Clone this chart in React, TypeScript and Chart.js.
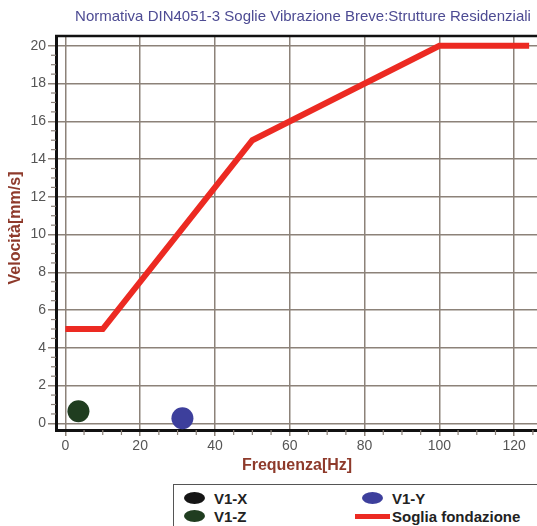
import React, { useEffect, useRef } from "react";
import { Chart, registerables } from "chart.js";

Chart.register(...registerables);

// Measurement points (frequency Hz, peak velocity mm/s)
const seriesNames = ["V1-X", "V1-Y", "V1-Z"];
const seriesColors = ["#151515", "#3d3f9c", "#203d20"];
const pointFreq = [3.5, 31.3, 3.5];
const pointVel = [0.64, 0.27, 0.64];
// V1-Z is drawn above V1-X (lower order = drawn on top)
const pointOrder = [3, 2, 1];
const pointRadii = [10, 11, 11];

// DIN 4051-3 short-term threshold for residential buildings (foundation)
const thresholdName = "Soglia fondazione";
const thresholdColor = "#ec2a22";
const thresholdFreq = [0, 10, 50, 100, 124];
const thresholdVel = [5, 5, 15, 20, 20];

const xTicks = [0, 20, 40, 60, 80, 100, 120];
const yTicks = [0, 2, 4, 6, 8, 10, 12, 14, 16, 18, 20];

const titleText = "Normativa DIN4051-3 Soglie Vibrazione Breve:Strutture Residenziali";
const xTitle = "Frequenza[Hz]";
const yTitle = "Velocità[mm/s]";

const W = 537;
const H = 526;
const FONT = "'Liberation Sans', Arial, Helvetica, sans-serif";

const framePlugin = {
  id: "frameAndTitles",
  afterDraw(chart: any) {
    const { ctx, chartArea } = chart;
    const xs = chart.scales.x;
    const ys = chart.scales.y;
    ctx.save();
    // top frame line
    ctx.strokeStyle = "#111";
    ctx.lineWidth = 2.5;
    ctx.beginPath();
    ctx.moveTo(chartArea.left - 1, chartArea.top);
    ctx.lineTo(chartArea.right, chartArea.top);
    ctx.stroke();
    // minor ticks
    ctx.strokeStyle = "#8a8078";
    ctx.lineWidth = 1.2;
    for (let v = 0.5; v < 20.01; v += 0.5) {
      if (Math.abs(v % 2) < 1e-6) continue;
      const y = ys.getPixelForValue(v);
      ctx.beginPath();
      ctx.moveTo(chartArea.left - 5, y);
      ctx.lineTo(chartArea.left, y);
      ctx.stroke();
    }
    for (let v = 5; v <= 125; v += 5) {
      if (v % 20 === 0) continue;
      const x = xs.getPixelForValue(v);
      ctx.beginPath();
      ctx.moveTo(x, chartArea.bottom);
      ctx.lineTo(x, chartArea.bottom + 5);
      ctx.stroke();
    }
    // titles
    ctx.textAlign = "center";
    ctx.textBaseline = "middle";
    ctx.fillStyle = "#4d4b93";
    ctx.font = `15px ${FONT}`;
    ctx.fillText(titleText, 303, 17);
    ctx.fillStyle = "#8e3a2b";
    ctx.font = `bold 16px ${FONT}`;
    ctx.fillText(xTitle, 297, 466);
    ctx.translate(16, 228);
    ctx.rotate(-Math.PI / 2);
    ctx.fillText(yTitle, 0, 0);
    ctx.restore();
  },
};

function Legend() {
  const items = [
    { name: seriesNames[0], color: seriesColors[0], line: false, left: 10, top: 4 },
    { name: seriesNames[1], color: seriesColors[1], line: false, left: 188, top: 4 },
    { name: seriesNames[2], color: seriesColors[2], line: false, left: 10, top: 22 },
    { name: thresholdName, color: thresholdColor, line: true, left: 181, top: 22 },
  ];
  return (
    <div
      style={{
        position: "absolute",
        left: 173,
        top: 484,
        width: 380,
        height: 60,
        border: "1.5px solid #555",
        background: "#fff",
        fontFamily: FONT,
        fontWeight: "bold",
        fontSize: 15,
        color: "#222",
      }}
    >
      {items.map((it) => (
        <div
          key={it.name}
          style={{ position: "absolute", left: it.left, top: it.top, height: 18, display: "flex", alignItems: "center", whiteSpace: "nowrap" }}
        >
          {it.line ? (
            <span style={{ display: "inline-block", width: 35, height: 5, background: it.color, marginRight: 2 }} />
          ) : (
            <span style={{ display: "inline-block", width: 21, height: 12, borderRadius: "50%", background: it.color, marginRight: 9 }} />
          )}
          <span>{it.name}</span>
        </div>
      ))}
    </div>
  );
}

export default function App() {
  const ref = useRef<HTMLCanvasElement>(null);

  useEffect(() => {
    const canvas = ref.current;
    if (!canvas) return;
    const pointSets = seriesNames.map((name, i) => ({
      label: name,
      data: [{ x: pointFreq[i], y: pointVel[i] }],
      backgroundColor: seriesColors[i],
      borderColor: seriesColors[i],
      pointRadius: pointRadii[i],
      pointBorderWidth: 0,
      showLine: false,
      order: pointOrder[i],
    }));
    const chart = new Chart(canvas, {
      type: "scatter",
      data: {
        datasets: [
          {
            label: thresholdName,
            data: thresholdFreq.map((f, i) => ({ x: f, y: thresholdVel[i] })),
            showLine: true,
            borderColor: thresholdColor,
            backgroundColor: thresholdColor,
            borderWidth: 6,
            borderJoinStyle: "miter",
            pointRadius: 0,
            order: 5,
          },
          ...pointSets,
        ] as any,
      },
      options: {
        animation: false,
        responsive: false,
        devicePixelRatio: 1,
        layout: { autoPadding: false, padding: { top: 36, right: 0, left: 0, bottom: 0 } },
        plugins: { legend: { display: false }, tooltip: { enabled: false }, title: { display: false } },
        scales: {
          x: {
            type: "linear",
            min: -2.5,
            max: 126.1,
            afterFit: (s: any) => {
              s.height = 96;
            },
            afterBuildTicks: (s: any) => {
              s.ticks = xTicks.map((v) => ({ value: v }));
            },
            ticks: {
              color: "#555",
              font: { family: FONT, size: 14 },
              padding: 2,
              maxRotation: 0,
              autoSkip: false,
            },
            grid: { color: "#8c8279", lineWidth: 1.5, tickLength: 6, tickColor: "#8c8279" },
            border: { display: true, color: "#111", width: 3 },
          },
          y: {
            type: "linear",
            min: -0.35,
            max: 20.52,
            afterFit: (s: any) => {
              s.width = 56;
            },
            afterBuildTicks: (s: any) => {
              s.ticks = yTicks.map((v) => ({ value: v }));
            },
            ticks: {
              color: "#555",
              font: { family: FONT, size: 14 },
              padding: 2,
              autoSkip: false,
            },
            grid: { color: "#8c8279", lineWidth: 1.5, tickLength: 8, tickColor: "#8c8279" },
            border: { display: true, color: "#111", width: 3 },
          },
        },
      },
      plugins: [framePlugin],
    });
    return () => chart.destroy();
  }, []);

  return (
    <div style={{ position: "fixed", left: 0, top: 0, width: W, height: H, overflow: "hidden", background: "#fff" }}>
      <canvas ref={ref} width={W} height={H} style={{ display: "block", width: W, height: H }} />
      <Legend />
    </div>
  );
}
